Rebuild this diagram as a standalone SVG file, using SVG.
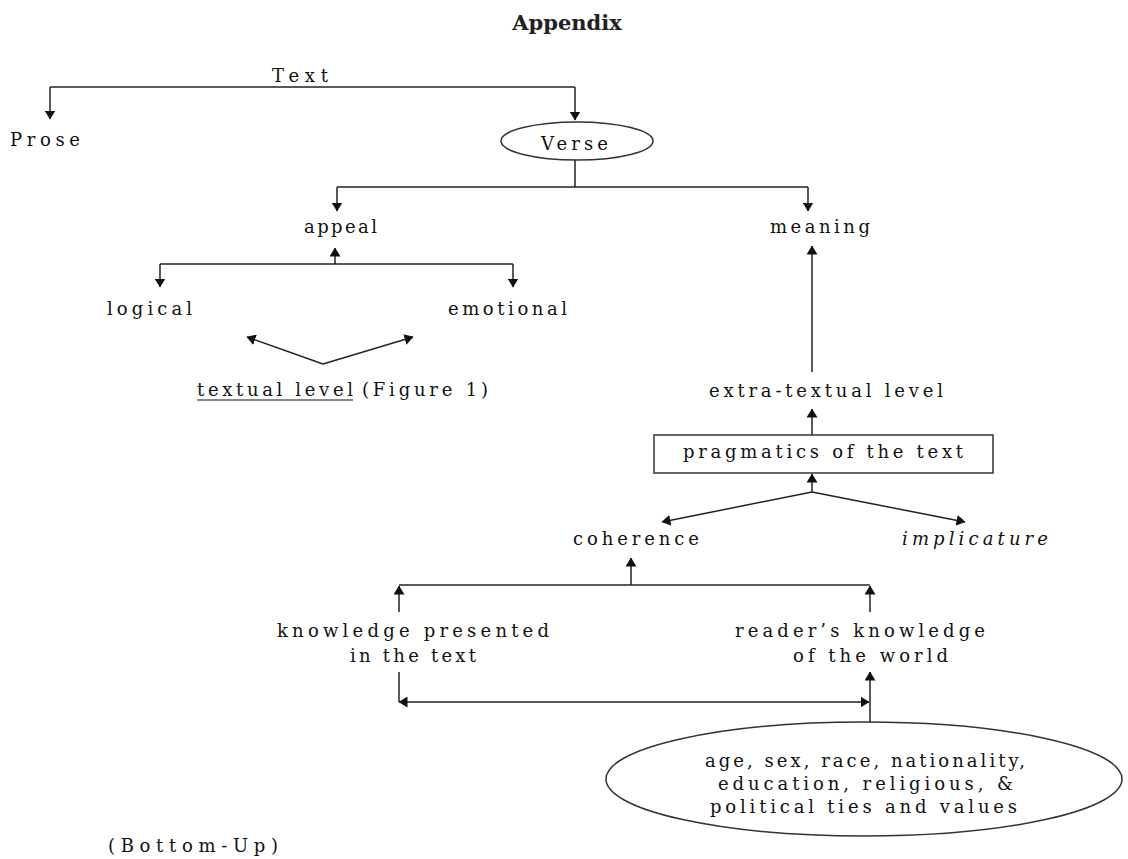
<svg xmlns="http://www.w3.org/2000/svg" width="1128" height="859" viewBox="0 0 1128 859">
  <style>
    .t { font-family: "DejaVu Serif", "Liberation Serif", serif; font-size: 18px; fill: #111; }
    .it { font-style: italic; }
    .title { font-family: "DejaVu Serif", "Liberation Serif", serif; font-size: 21px; font-weight: bold; fill: #222; }
    .ln { fill: none; stroke: #222; stroke-width: 1.5; }
    .arr { fill: none; stroke: #222; stroke-width: 1.5; marker-end: url(#ah); }
    .shape { fill: #fff; stroke: #333; stroke-width: 1.5; }
  </style>
  <defs>
    <marker id="ah" viewBox="0 0 9 11" refX="8.5" refY="5.5" markerWidth="9" markerHeight="11" markerUnits="userSpaceOnUse" orient="auto-start-reverse">
      <path d="M0,0 L9,5.5 L0,11 z" fill="#111"/>
    </marker>
  </defs>
  <rect width="1128" height="859" fill="#fff"/>

  <g id="title">
    <text class="title" x="567" y="30" text-anchor="middle">Appendix</text>
  </g>

  <g id="connectors">
    <!-- Text split -->
    <path class="ln" d="M50,87 H575"/>
    <path class="arr" d="M50,87 V119"/>
    <path class="arr" d="M575,87 V120"/>
    <!-- Verse split -->
    <path class="ln" d="M575,160 V187 M337,187 H808"/>
    <path class="arr" d="M337,187 V211"/>
    <path class="arr" d="M808,187 V211"/>
    <!-- appeal split -->
    <path class="arr" d="M335,264 V248"/>
    <path class="ln" d="M160,264 H513"/>
    <path class="arr" d="M160,264 V287"/>
    <path class="arr" d="M513,264 V287"/>
    <!-- textual level V -->
    <path class="arr" d="M323,364 L247,337"/>
    <path class="arr" d="M323,364 L413,337"/>
    <!-- meaning <- extra-textual -->
    <path class="arr" d="M812,372 V246"/>
    <path class="arr" d="M812,435 V409"/>
    <!-- pragmatics split -->
    <path class="arr" d="M812,492 V474"/>
    <path class="arr" d="M812,492 L662,522"/>
    <path class="arr" d="M812,492 L965,522"/>
    <!-- coherence bar -->
    <path class="arr" d="M631,585 V558"/>
    <path class="ln" d="M399,585 H870"/>
    <path class="arr" d="M399,612 V586"/>
    <path class="arr" d="M870,612 V586"/>
    <!-- knowledge link -->
    <path class="ln" d="M399,672 V702"/>
    <path class="arr" d="M634,702 H399"/>
    <path class="arr" d="M634,702 H869"/>
    <path class="arr" d="M870,722 V672"/>
  </g>

  <g id="n-text"><text class="t" x="272" y="82" textLength="56" lengthAdjust="spacing">Text</text></g>
  <g id="n-prose"><text class="t" x="10" y="146" textLength="70" lengthAdjust="spacing">Prose</text></g>
  <g id="n-verse">
    <ellipse class="shape" cx="577" cy="141" rx="76" ry="19"/>
    <text class="t" x="541" y="150" textLength="67" lengthAdjust="spacing">Verse</text>
  </g>
  <g id="n-appeal"><text class="t" x="304" y="233" textLength="73" lengthAdjust="spacing">appeal</text></g>
  <g id="n-meaning"><text class="t" x="770" y="233" textLength="100" lengthAdjust="spacing">meaning</text></g>
  <g id="n-logical"><text class="t" x="107" y="315" textLength="85" lengthAdjust="spacing">logical</text></g>
  <g id="n-emotional"><text class="t" x="448" y="315" textLength="119" lengthAdjust="spacing">emotional</text></g>
  <g id="n-textual">
    <text class="t" x="197" y="396" textLength="156" lengthAdjust="spacing">textual level</text>
    <line x1="197" y1="400" x2="353" y2="400" stroke="#111" stroke-width="1"/>
    <text class="t" x="362" y="396" textLength="126" lengthAdjust="spacing">(Figure 1)</text>
  </g>
  <g id="n-extra"><text class="t" x="709" y="397" textLength="234" lengthAdjust="spacing">extra-textual level</text></g>
  <g id="n-pragmatics">
    <rect class="shape" x="654" y="435" width="339" height="38"/>
    <text class="t" x="683" y="458" textLength="280" lengthAdjust="spacing">pragmatics of the text</text>
  </g>
  <g id="n-coherence"><text class="t" x="573" y="545" textLength="126" lengthAdjust="spacing">coherence</text></g>
  <g id="n-implicature"><text class="t it" x="902" y="545" textLength="146" lengthAdjust="spacing">implicature</text></g>
  <g id="n-knowledge">
    <text class="t" x="277" y="637" textLength="272" lengthAdjust="spacing">knowledge presented</text>
    <text class="t" x="350" y="662" textLength="126" lengthAdjust="spacing">in the text</text>
  </g>
  <g id="n-reader">
    <text class="t" x="735" y="637" textLength="250" lengthAdjust="spacing">reader’s knowledge</text>
    <text class="t" x="793" y="662" textLength="155" lengthAdjust="spacing">of the world</text>
  </g>
  <g id="n-factors">
    <ellipse class="shape" cx="864" cy="779" rx="258" ry="57"/>
    <text class="t" x="705" y="767" textLength="320" lengthAdjust="spacing">age, sex, race, nationality,</text>
    <text class="t" x="718" y="790" textLength="295" lengthAdjust="spacing">education, religious, &amp;</text>
    <text class="t" x="710" y="813" textLength="307" lengthAdjust="spacing">political ties and values</text>
  </g>
  <g id="n-bottomup"><text class="t" x="108" y="852" textLength="170" lengthAdjust="spacing">(Bottom-Up)</text></g>
</svg>
